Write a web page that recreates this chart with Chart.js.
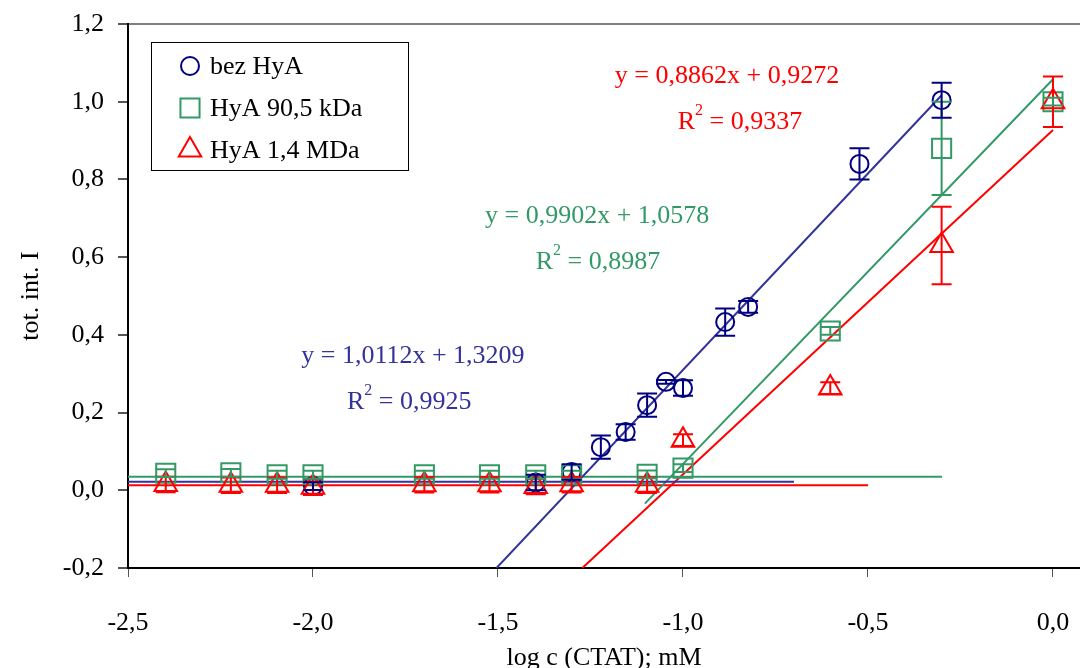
<!DOCTYPE html>
<html>
<head>
<meta charset="utf-8">
<script src="https://cdn.jsdelivr.net/npm/chart.js@4.4.1/dist/chart.umd.min.js"></script>
<style>
  html, body { margin: 0; padding: 0; background: #fff; }
  #wrap { width: 1080px; height: 668px; }
</style>
</head>
<body>
<div id="wrap"><canvas id="chart" width="1080" height="668"></canvas></div>
<script>
// log c (CTAT) waarden per serie
const xBez = [-2.0, -1.398, -1.301, -1.222, -1.155, -1.097, -1.046, -1.0, -0.886, -0.824, -0.523, -0.301];
const yBez = [0.011, 0.02, 0.047, 0.111, 0.15, 0.219, 0.279, 0.263, 0.433, 0.472, 0.84, 1.004];
const eBez = [0.01, 0.02, 0.02, 0.03, 0.02, 0.03, 0.005, 0.02, 0.035, 0.015, 0.04, 0.045];

const xHyA90 = [-2.398, -2.222, -2.097, -2.0, -1.699, -1.523, -1.398, -1.301, -1.097, -1.0, -0.602, -0.301, 0.0];
const yHyA90 = [0.044, 0.045, 0.04, 0.04, 0.04, 0.04, 0.04, 0.04, 0.041, 0.057, 0.41, 0.88, 1.0];
const eHyA90 = [0.01, 0.01, 0.01, 0.01, 0.01, 0.01, 0.01, 0.01, 0.01, 0.01, 0.01, 0.12, 0.01];

const xHyA14 = [-2.398, -2.222, -2.097, -2.0, -1.699, -1.523, -1.398, -1.301, -1.097, -1.0, -0.602, -0.301, 0.0];
const yHyA14 = [0.015, 0.013, 0.013, 0.008, 0.014, 0.014, 0.01, 0.014, 0.013, 0.129, 0.263, 0.63, 1.0];
const eHyA14 = [0.02, 0.02, 0.02, 0.02, 0.02, 0.02, 0.02, 0.02, 0.02, 0.015, 0.015, 0.1, 0.065];

// trendlijnen: helling, intercept, x-bereik
const trendSlope = [1.0112, 0.9902, 0.8862];
const trendIcpt = [1.3209, 1.0578, 0.9272];
const trendFrom = [-1.504, -1.103, -1.272];
const trendTo = [-0.301, 0.0, 0.0];

// horizontale basislijnen
const baseLevel = [0.022, 0.035, 0.013];
const baseTo = [-0.7, -0.3, -0.5];

const seriesNames = ["bez HyA", "HyA 90,5 kDa", "HyA 1,4 MDa"];
const markerColors = ["#000080", "#339966", "#FF0000"];
const lineColors = ["#333399", "#339966", "#FF0000"];
const markerStyles = ["circle", "rect", "triangle"];
const markerSizes = [9, 13.5, 13];

const eqTexts = ["y = 1,0112x + 1,3209", "y = 0,9902x + 1,0578", "y = 0,8862x + 0,9272"];
const r2Texts = ["0,9925", "0,8987", "0,9337"];
const eqPosX = [-1.73, -1.232, -0.881];
const eqPosY = [0.345, 0.706, 1.066];
const r2PosX = [-1.74, -1.23, -0.846];
const r2PosY = [0.227, 0.587, 0.948];

const xTicks = [-2.5, -2.0, -1.5, -1.0, -0.5, 0.0];

const FONT = "'Liberation Serif', 'Times New Roman', serif";
const FS = 26;

function pts(xs, ys) {
  return xs.map((x, i) => ({ x: x, y: ys[i] }));
}
function fmt(v) {
  if (Math.abs(v) < 1e-9) v = 0;
  return v.toFixed(1).replace(".", ",");
}
const allX = [xBez, xHyA90, xHyA14];
const allY = [yBez, yHyA90, yHyA14];
const allE = [eBez, eHyA90, eHyA14];

const datasets = [];
// markers (eerst = bovenop)
for (let i = 2; i >= 0; i--) {
  datasets.push({
    label: seriesNames[i],
    data: pts(allX[i], allY[i]),
    pointStyle: markerStyles[i],
    pointRadius: markerSizes[i],
    pointBorderColor: markerColors[i],
    pointBackgroundColor: "rgba(0,0,0,0)",
    pointBorderWidth: 2,
    showLine: false,
    errors: allE[i],
    errColor: markerColors[i]
  });
}
for (let i = 0; i < 3; i++) {
  datasets.push({
    label: "trend " + i,
    data: [
      { x: trendFrom[i], y: trendSlope[i] * trendFrom[i] + trendIcpt[i] },
      { x: trendTo[i], y: trendSlope[i] * trendTo[i] + trendIcpt[i] }
    ],
    showLine: true,
    borderColor: lineColors[i],
    borderWidth: 2,
    pointRadius: 0
  });
  datasets.push({
    label: "basis " + i,
    data: [{ x: -2.5, y: baseLevel[i] }, { x: baseTo[i], y: baseLevel[i] }],
    showLine: true,
    borderColor: lineColors[i],
    borderWidth: 2,
    pointRadius: 0
  });
}

// plotgebied tot de rechterrand laten doorlopen
const stretchRight = {
  id: "stretchRight",
  afterLayout(chart) {
    const xs = chart.scales.x;
    xs.right = chart.width;
    xs.width = xs.right - xs.left;
    xs.configure();
    chart.chartArea.right = chart.width;
    chart.chartArea.width = chart.chartArea.right - chart.chartArea.left;
  }
};

// foutbalken tekenen
const errorBars = {
  id: "errorBars",
  afterDatasetsDraw(chart) {
    const ctx = chart.ctx;
    const ys = chart.scales.y;
    chart.data.datasets.forEach((ds, di) => {
      if (!ds.errors) return;
      const meta = chart.getDatasetMeta(di);
      ctx.save();
      ctx.strokeStyle = ds.errColor;
      ctx.lineWidth = 2;
      meta.data.forEach((pt, j) => {
        const v = ds.data[j].y;
        const e = ds.errors[j];
        const top = ys.getPixelForValue(v + e);
        const bot = ys.getPixelForValue(v - e);
        ctx.beginPath();
        ctx.moveTo(pt.x, top); ctx.lineTo(pt.x, bot);
        ctx.moveTo(pt.x - 10, top); ctx.lineTo(pt.x + 10, top);
        ctx.moveTo(pt.x - 10, bot); ctx.lineTo(pt.x + 10, bot);
        ctx.stroke();
      });
      ctx.restore();
    });
  }
};

// vergelijkingen en eigen legenda
const overlay = {
  id: "overlay",
  afterDraw(chart) {
    const ctx = chart.ctx;
    const xs = chart.scales.x, ys = chart.scales.y;
    ctx.save();
    ctx.textBaseline = "middle";
    for (let i = 0; i < 3; i++) {
      ctx.fillStyle = lineColors[i];
      ctx.font = FS + "px " + FONT;
      ctx.textAlign = "center";
      ctx.fillText(eqTexts[i], xs.getPixelForValue(eqPosX[i]), ys.getPixelForValue(eqPosY[i]));
      // R² met superscript
      const cx = xs.getPixelForValue(r2PosX[i]);
      const cy = ys.getPixelForValue(r2PosY[i]);
      const partA = "R", partB = "2", partC = " = " + r2Texts[i];
      ctx.font = FS + "px " + FONT;
      const wA = ctx.measureText(partA).width;
      const wC = ctx.measureText(partC).width;
      ctx.font = "16px " + FONT;
      const wB = ctx.measureText(partB).width;
      let x0 = cx - (wA + wB + wC) / 2;
      ctx.textAlign = "left";
      ctx.font = FS + "px " + FONT;
      ctx.fillText(partA, x0, cy);
      ctx.font = "16px " + FONT;
      ctx.fillText(partB, x0 + wA, cy - 11);
      ctx.font = FS + "px " + FONT;
      ctx.fillText(partC, x0 + wA + wB, cy);
    }
    // legenda
    ctx.fillStyle = "#fff";
    ctx.fillRect(151, 42, 257, 128);
    ctx.strokeStyle = "#000";
    ctx.lineWidth = 1;
    ctx.strokeRect(151.5, 42.5, 257, 128);
    for (let i = 0; i < 3; i++) {
      const ry = 66 + i * 42;
      ctx.strokeStyle = markerColors[i];
      ctx.fillStyle = "rgba(0,0,0,0)";
      ctx.lineWidth = 2;
      Chart.helpers.drawPoint(ctx, { pointStyle: markerStyles[i], radius: markerSizes[i], borderWidth: 2 }, 190, ry);
      ctx.fillStyle = "#000";
      ctx.font = FS + "px " + FONT;
      ctx.textAlign = "left";
      ctx.fillText(seriesNames[i], 210, ry + 1);
    }
    ctx.restore();
  }
};

const ctx = document.getElementById("chart").getContext("2d");
new Chart(ctx, {
  type: "scatter",
  data: { datasets: datasets },
  options: {
    responsive: false,
    animation: false,
    layout: { padding: { top: 24, right: 0, left: 0, bottom: 0 } },
    plugins: { legend: { display: false }, tooltip: { enabled: false } },
    scales: {
      x: {
        type: "linear",
        min: -2.5,
        max: 0.073,
        afterBuildTicks: (s) => { s.ticks = xTicks.map(v => ({ value: v })); },
        afterFit: (s) => { s.height = 100; },
        border: { color: "#000", width: 2 },
        grid: { display: true, drawOnChartArea: false, tickLength: 9, tickColor: "#555" },
        ticks: {
          color: "#000",
          font: { family: FONT, size: FS, lineHeight: 2.9 },
          padding: 8,
          maxRotation: 0,
          callback: (v) => fmt(v)
        },
        title: {
          display: true,
          text: "log c (CTAT); mM",
          color: "#000",
          font: { family: FONT, size: FS, lineHeight: 1.0 },
          padding: { top: 0, bottom: -3 }
        }
      },
      y: {
        type: "linear",
        min: -0.2,
        max: 1.2,
        ticks: {
          stepSize: 0.2,
          color: "#000",
          font: { family: FONT, size: FS },
          padding: 14,
          callback: (v) => fmt(v)
        },
        afterFit: (s) => { s.width = 128; s.paddingTop = 0; s.paddingBottom = 0; },
        border: { color: "#000", width: 2 },
        grid: {
          drawOnChartArea: true,
          tickLength: 10,
          tickColor: "#555",
          color: (c) => (c.tick && Math.abs(c.tick.value - 1.2) < 1e-6) ? "#808080" : "rgba(0,0,0,0)",
          lineWidth: 2
        },
        title: {
          display: true,
          text: "tot. int. I",
          color: "#000",
          font: { family: FONT, size: FS },
          padding: { top: 16, bottom: 0 }
        }
      }
    }
  },
  plugins: [stretchRight, errorBars, overlay]
});
</script>
</body>
</html>
